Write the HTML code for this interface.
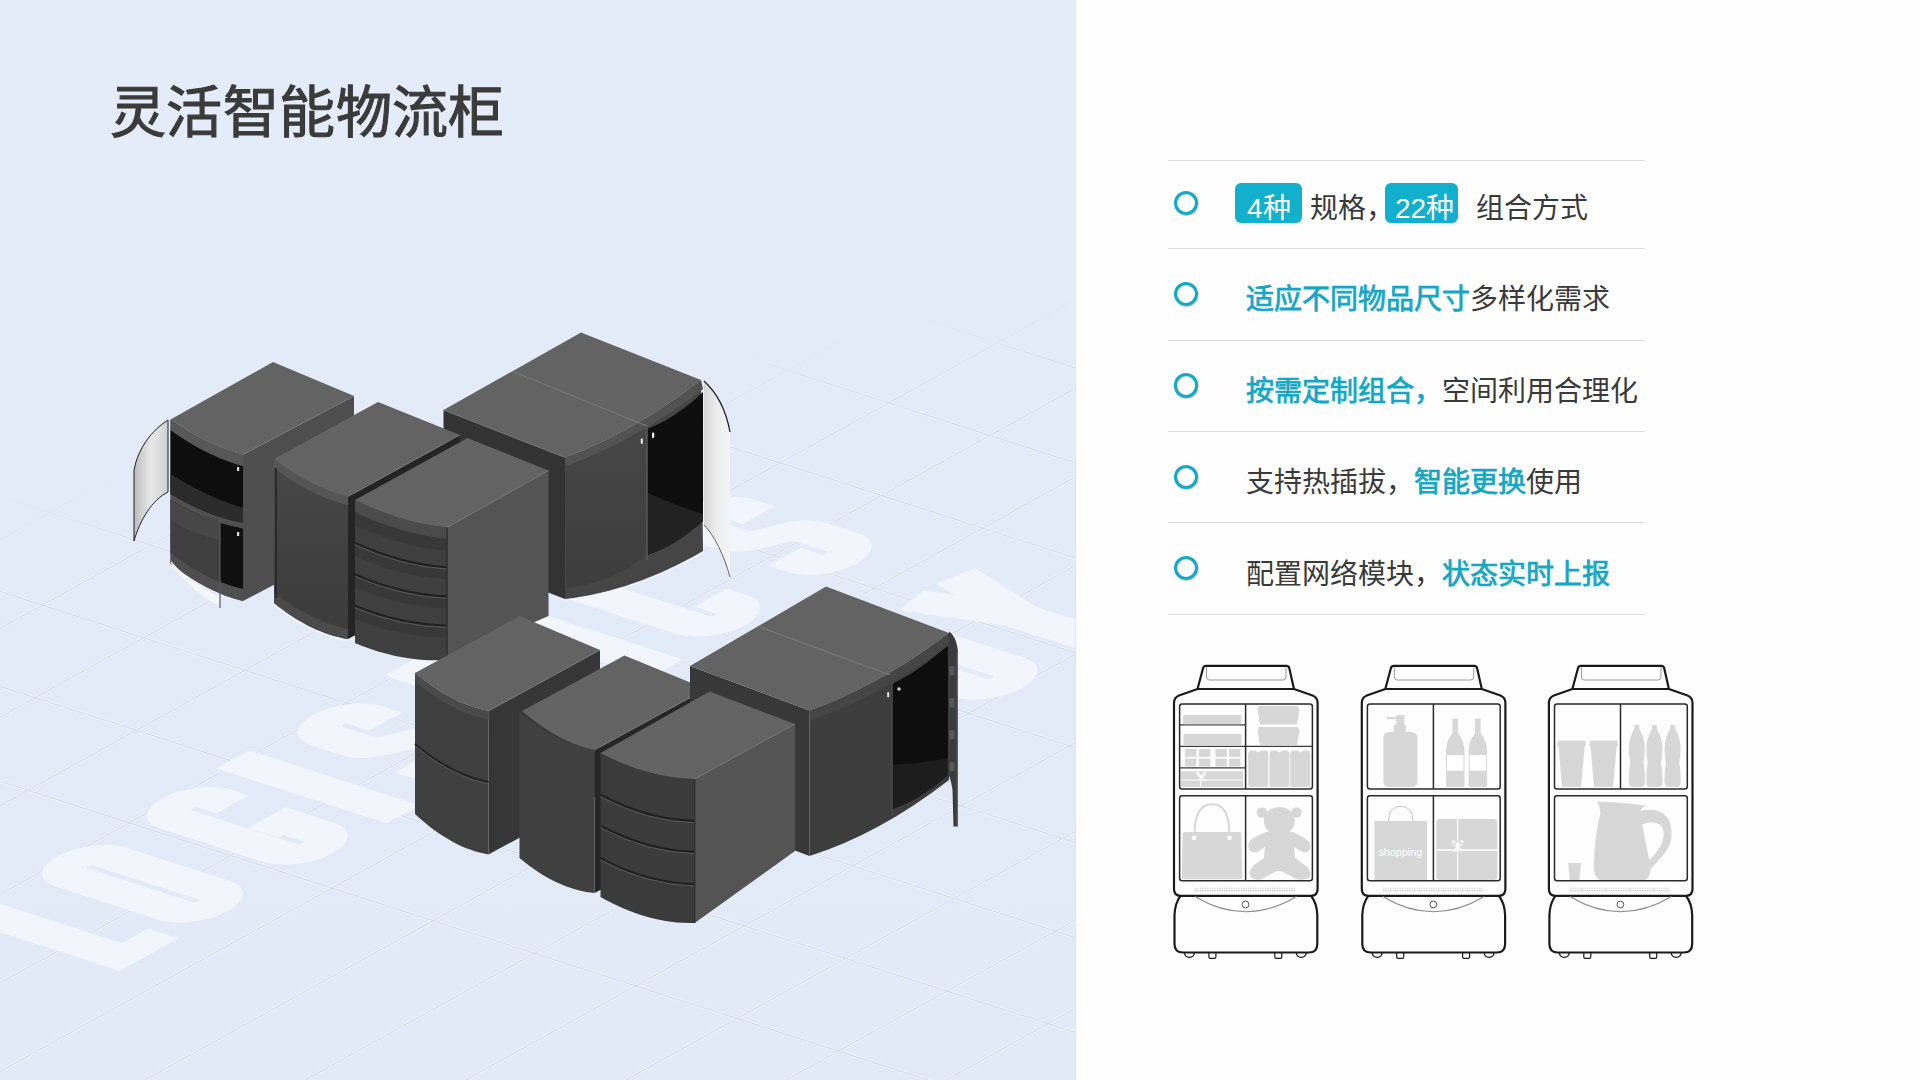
<!DOCTYPE html>
<html lang="zh-CN">
<head>
<meta charset="utf-8">
<style>
html,body{margin:0;padding:0;width:1920px;height:1080px;overflow:hidden;background:#fefefe;font-family:"Liberation Sans",sans-serif;}
#left{position:absolute;left:0;top:0;width:1076px;height:1080px;overflow:hidden;background:linear-gradient(180deg,#e5ecf9 0%,#e3ebf9 50%,#e2eaf8 100%);}
#left svg{position:absolute;left:0;top:0;}
#title{position:absolute;left:110px;top:75px;font-size:56px;line-height:76px;font-weight:400;color:#3b3b3b;letter-spacing:0.4px;white-space:nowrap;-webkit-text-stroke:1.1px #3b3b3b;}
.hl{position:absolute;left:1168px;width:477px;height:1.4px;background:#dcdcdc;}
.dot{position:absolute;left:1174px;width:18.4px;height:18.4px;border:3.8px solid #12a8c8;border-radius:50%;box-sizing:content-box;box-shadow:0.6px 0.8px 0.8px rgba(60,40,30,0.35),inset 0.5px 0.5px 0.6px rgba(60,40,30,0.2);}
.row{position:absolute;left:1246px;font-size:28px;line-height:40px;color:#3a3a3a;white-space:nowrap;}
.row b{font-weight:400;color:#13a6c5;-webkit-text-stroke:0.75px #13a6c5;}
.badge{position:absolute;top:183px;height:40px;background:#12b0cc;border-radius:6px;}
#drw{position:absolute;left:1160px;top:650px;}
</style>
</head>
<body>
<div id="left">
<svg id="bg" width="1076" height="1080" viewBox="0 0 1076 1080" style="position:absolute;left:0;top:0"><defs><linearGradient id="gfade" gradientUnits="userSpaceOnUse" x1="538" y1="385" x2="558" y2="490"><stop offset="0" stop-color="#fff" stop-opacity="0"/><stop offset="1" stop-color="#fff" stop-opacity="1"/></linearGradient><mask id="gmask"><rect width="1076" height="1080" fill="url(#gfade)"/></mask></defs><g mask="url(#gmask)"><path d="M-4435.5,2106.5L2074.5,-1493.5M-4334.2,2139.1L2175.8,-1460.9M-4232.9,2171.7L2277.1,-1428.3M-4131.6,2204.3L2378.4,-1395.7M-4030.3,2236.9L2479.7,-1363.1M-3929.0,2269.5L2581.0,-1330.5M-3827.7,2302.1L2682.3,-1297.9M-3726.4,2334.7L2783.6,-1265.3M-3625.1,2367.3L2884.9,-1232.7M-3523.8,2399.9L2986.2,-1200.1M-3422.5,2432.5L3087.5,-1167.5M-3321.2,2465.1L3188.8,-1134.9M-3219.9,2497.7L3290.1,-1102.3M-3118.6,2530.3L3391.4,-1069.7M-3017.3,2562.9L3492.7,-1037.1M-2916.0,2595.5L3594.0,-1004.5M-2814.7,2628.1L3695.3,-971.9M-2713.4,2660.7L3796.6,-939.3M-2612.1,2693.3L3897.9,-906.7M-2302.0,40.5L3776.0,1996.5M-2510.8,2725.9L3999.2,-874.1M-2193.5,-19.5L3884.5,1936.5M-2409.5,2758.5L4100.5,-841.5M-2085.0,-79.5L3993.0,1876.5M-2308.2,2791.1L4201.8,-808.9M-1976.5,-139.5L4101.5,1816.5M-2206.9,2823.7L4303.1,-776.3M-1868.0,-199.5L4210.0,1756.5M-2105.6,2856.3L4404.4,-743.7M-1759.5,-259.5L4318.5,1696.5M-2004.3,2888.9L4505.7,-711.1M-1651.0,-319.5L4427.0,1636.5M-1903.0,2921.5L4607.0,-678.5M-1542.5,-379.5L4535.5,1576.5M-1801.7,2954.1L4708.3,-645.9M-1434.0,-439.5L4644.0,1516.5M-1700.4,2986.7L4809.6,-613.3M-1325.5,-499.5L4752.5,1456.5M-1599.1,3019.3L4910.9,-580.7M-1217.0,-559.5L4861.0,1396.5M-1497.8,3051.9L5012.2,-548.1M-1108.5,-619.5L4969.5,1336.5M-1396.5,3084.5L5113.5,-515.5M-1000.0,-679.5L5078.0,1276.5M-1295.2,3117.1L5214.8,-482.9M-891.5,-739.5L5186.5,1216.5M-1193.9,3149.7L5316.1,-450.3M-783.0,-799.5L5295.0,1156.5M-1092.6,3182.3L5417.4,-417.7M-674.5,-859.5L5403.5,1096.5M-991.3,3214.9L5518.7,-385.1M-566.0,-919.5L5512.0,1036.5M-890.0,3247.5L5620.0,-352.5M-457.5,-979.5L5620.5,976.5M-788.7,3280.1L5721.3,-319.9M-349.0,-1039.5L5729.0,916.5M-687.4,3312.7L5822.6,-287.3M-240.5,-1099.5L5837.5,856.5M-586.1,3345.3L5923.9,-254.7M-132.0,-1159.5L5946.0,796.5M-484.8,3377.9L6025.2,-222.1M-23.5,-1219.5L6054.5,736.5M-383.5,3410.5L6126.5,-189.5" stroke="#f4f7fc" stroke-width="3" fill="none" opacity="0.5"/><path d="M-4435.5,2106.5L2074.5,-1493.5M-4334.2,2139.1L2175.8,-1460.9M-4232.9,2171.7L2277.1,-1428.3M-4131.6,2204.3L2378.4,-1395.7M-4030.3,2236.9L2479.7,-1363.1M-3929.0,2269.5L2581.0,-1330.5M-3827.7,2302.1L2682.3,-1297.9M-3726.4,2334.7L2783.6,-1265.3M-3625.1,2367.3L2884.9,-1232.7M-3523.8,2399.9L2986.2,-1200.1M-3422.5,2432.5L3087.5,-1167.5M-3321.2,2465.1L3188.8,-1134.9M-3219.9,2497.7L3290.1,-1102.3M-3118.6,2530.3L3391.4,-1069.7M-3017.3,2562.9L3492.7,-1037.1M-2916.0,2595.5L3594.0,-1004.5M-2814.7,2628.1L3695.3,-971.9M-2713.4,2660.7L3796.6,-939.3M-2612.1,2693.3L3897.9,-906.7M-2302.0,40.5L3776.0,1996.5M-2510.8,2725.9L3999.2,-874.1M-2193.5,-19.5L3884.5,1936.5M-2409.5,2758.5L4100.5,-841.5M-2085.0,-79.5L3993.0,1876.5M-2308.2,2791.1L4201.8,-808.9M-1976.5,-139.5L4101.5,1816.5M-2206.9,2823.7L4303.1,-776.3M-1868.0,-199.5L4210.0,1756.5M-2105.6,2856.3L4404.4,-743.7M-1759.5,-259.5L4318.5,1696.5M-2004.3,2888.9L4505.7,-711.1M-1651.0,-319.5L4427.0,1636.5M-1903.0,2921.5L4607.0,-678.5M-1542.5,-379.5L4535.5,1576.5M-1801.7,2954.1L4708.3,-645.9M-1434.0,-439.5L4644.0,1516.5M-1700.4,2986.7L4809.6,-613.3M-1325.5,-499.5L4752.5,1456.5M-1599.1,3019.3L4910.9,-580.7M-1217.0,-559.5L4861.0,1396.5M-1497.8,3051.9L5012.2,-548.1M-1108.5,-619.5L4969.5,1336.5M-1396.5,3084.5L5113.5,-515.5M-1000.0,-679.5L5078.0,1276.5M-1295.2,3117.1L5214.8,-482.9M-891.5,-739.5L5186.5,1216.5M-1193.9,3149.7L5316.1,-450.3M-783.0,-799.5L5295.0,1156.5M-1092.6,3182.3L5417.4,-417.7M-674.5,-859.5L5403.5,1096.5M-991.3,3214.9L5518.7,-385.1M-566.0,-919.5L5512.0,1036.5M-890.0,3247.5L5620.0,-352.5M-457.5,-979.5L5620.5,976.5M-788.7,3280.1L5721.3,-319.9M-349.0,-1039.5L5729.0,916.5M-687.4,3312.7L5822.6,-287.3M-240.5,-1099.5L5837.5,856.5M-586.1,3345.3L5923.9,-254.7M-132.0,-1159.5L5946.0,796.5M-484.8,3377.9L6025.2,-222.1M-23.5,-1219.5L6054.5,736.5M-383.5,3410.5L6126.5,-189.5" stroke="#d3dae8" stroke-width="1" fill="none"/></g><g transform="matrix(108.5,-60,101.3,32.6,845.5,958.5)"><path d="M-2.440,-6.070L-2.440,-4.540L-2.050,-4.540M-1.420,-5.745A0.175,0.175 0 0 0 -1.770,-5.745L-1.770,-4.715A0.175,0.175 0 0 0 -1.420,-4.715ZM-0.455,-5.565L-0.455,-5.745A0.175,0.175 0 0 0 -0.805,-5.745L-0.805,-4.715A0.175,0.175 0 0 0 -0.455,-4.715L-0.455,-5.050L-0.650,-5.050M0.020,-6.070L0.020,-4.390M0.935,-5.545L0.935,-5.745A0.175,0.175 0 0 0 0.585,-5.745L0.585,-5.430C0.585,-5.210 0.935,-5.250 0.935,-5.030L0.935,-4.715A0.175,0.175 0 0 1 0.585,-4.715L0.585,-4.915M1.415,-5.920L2.065,-5.920M1.740,-5.920L1.740,-4.390M2.450,-6.070L2.450,-4.390M3.345,-5.545L3.345,-5.745A0.175,0.175 0 0 0 2.995,-5.745L2.995,-4.715A0.175,0.175 0 0 0 3.345,-4.715L3.345,-4.915M4.375,-5.545L4.375,-5.745A0.175,0.175 0 0 0 4.025,-5.745L4.025,-5.430C4.025,-5.210 4.375,-5.250 4.375,-5.030L4.375,-4.715A0.175,0.175 0 0 1 4.025,-4.715L4.025,-4.915M3.625,-3.305A0.175,0.175 0 0 0 3.275,-3.305L3.275,-2.275A0.175,0.175 0 0 0 3.625,-2.275ZM3.995,-3.630L4.200,-2.780L4.405,-3.630M4.200,-2.780L4.200,-1.950" fill="none" stroke="#f2f5fc" stroke-width="0.3" stroke-linejoin="miter" stroke-miterlimit="8"/></g></svg>
<svg id="cab" width="1076" height="1080" viewBox="0 0 1076 1080"><defs>
<linearGradient id="doorA" x1="0" y1="0" x2="1" y2="0"><stop offset="0" stop-color="#bdbdbd"/><stop offset="0.5" stop-color="#e8e8e8"/><stop offset="1" stop-color="#cfcfcf"/></linearGradient>
<linearGradient id="doorD" x1="0" y1="0" x2="1" y2="0"><stop offset="0" stop-color="#d6d6d6"/><stop offset="0.5" stop-color="#ededed"/><stop offset="1" stop-color="#f3f4f6"/></linearGradient>
<linearGradient id="gB" x1="0" y1="0" x2="0" y2="1"><stop offset="0" stop-color="#474747"/><stop offset="1" stop-color="#3b3b3b"/></linearGradient>
<linearGradient id="gD" x1="0" y1="0" x2="0" y2="1"><stop offset="0" stop-color="#474747"/><stop offset="1" stop-color="#3d3d3d"/></linearGradient>
</defs><polygon points="243.0,454.5 354.0,396.0 354.0,543.0 243.0,601.0" fill="#4e4e4e" /><polygon points="170.5,419.5 175.0,422.6 179.6,425.6 184.1,428.5 188.6,431.2 193.2,433.9 197.7,436.4 202.2,438.8 206.8,441.0 211.3,443.1 215.8,445.1 220.3,447.0 224.9,448.8 229.4,450.4 233.9,451.9 238.5,453.2 243.0,454.5 243.0,601.0 238.5,599.8 233.9,598.5 229.4,597.0 224.9,595.4 220.3,593.6 215.8,591.6 211.3,589.5 206.8,587.2 202.2,584.8 197.7,582.2 193.2,579.5 188.6,576.6 184.1,573.6 179.6,570.4 175.0,567.0 170.5,563.5" fill="#4a4a4a" /><polygon points="170.5,430.0 175.0,433.2 179.6,436.2 184.1,439.2 188.6,442.0 193.2,444.7 197.7,447.2 202.2,449.7 206.8,452.0 211.3,454.2 215.8,456.2 220.3,458.2 224.9,460.0 229.4,461.7 233.9,463.2 238.5,464.7 243.0,466.0 243.0,523.0 238.5,522.1 233.9,521.1 229.4,520.0 224.9,518.8 220.3,517.4 215.8,515.9 211.3,514.2 206.8,512.5 202.2,510.6 197.7,508.6 193.2,506.5 188.6,504.2 184.1,501.9 179.6,499.4 175.0,496.8 170.5,494.0" fill="#0e0e0e" /><polygon points="170.5,474.0 175.0,476.8 179.6,479.6 184.1,482.2 188.6,484.8 193.2,487.2 197.7,489.6 202.2,491.8 206.8,494.0 211.3,496.1 215.8,498.1 220.3,500.0 224.9,501.8 229.4,503.5 233.9,505.1 238.5,506.6 243.0,508.0 243.0,523.0 238.5,522.1 233.9,521.1 229.4,520.0 224.9,518.8 220.3,517.4 215.8,515.9 211.3,514.2 206.8,512.5 202.2,510.6 197.7,508.6 193.2,506.5 188.6,504.2 184.1,501.9 179.6,499.4 175.0,496.8 170.5,494.0" fill="#2b2b2b" /><polygon points="170.5,494.0 175.0,496.8 179.6,499.4 184.1,501.9 188.6,504.2 193.2,506.5 197.7,508.6 202.2,510.6 206.8,512.5 211.3,514.2 215.8,515.9 220.3,517.4 224.9,518.8 229.4,520.0 233.9,521.1 238.5,522.1 243.0,523.0 243.0,528.5 238.5,527.6 233.9,526.6 229.4,525.5 224.9,524.2 220.3,522.9 215.8,521.4 211.3,519.8 206.8,518.0 202.2,516.1 197.7,514.1 193.2,512.0 188.6,509.8 184.1,507.4 179.6,504.9 175.0,502.2 170.5,499.5" fill="#505050" /><polygon points="170.5,499.5 175.0,502.2 179.6,504.9 184.1,507.4 188.6,509.8 193.2,512.0 197.7,514.1 202.2,516.1 206.8,518.0 211.3,519.8 215.8,521.4 220.3,522.9 224.9,524.2 229.4,525.5 233.9,526.6 238.5,527.6 243.0,528.5 243.0,589.0 238.5,587.9 233.9,586.7 229.4,585.3 224.9,583.8 220.3,582.0 215.8,580.2 211.3,578.2 206.8,576.0 202.2,573.7 197.7,571.2 193.2,568.5 188.6,565.8 184.1,562.8 179.6,559.7 175.0,556.4 170.5,553.0" fill="#101010" /><polygon points="171.0,500.0 174.1,502.0 177.1,503.8 180.2,505.6 183.2,507.2 186.3,508.8 189.4,510.3 192.4,511.7 195.5,513.0 198.6,514.2 201.6,515.3 204.7,516.3 207.8,517.2 210.8,518.1 213.9,518.8 216.9,519.5 220.0,520.0 220.0,583.0 216.9,582.0 213.9,580.9 210.8,579.8 207.8,578.5 204.7,577.1 201.6,575.7 198.6,574.1 195.5,572.5 192.4,570.8 189.4,568.9 186.3,567.0 183.2,565.0 180.2,562.9 177.1,560.7 174.1,558.4 171.0,556.0" fill="#3f3f3f" /><polygon points="171.0,500.0 174.1,502.0 177.1,503.8 180.2,505.6 183.2,507.2 186.3,508.8 189.4,510.3 192.4,511.7 195.5,513.0 198.6,514.2 201.6,515.3 204.7,516.3 207.8,517.2 210.8,518.1 213.9,518.8 216.9,519.5 220.0,520.0 220.0,540.0 216.9,539.5 213.9,538.8 210.8,538.1 207.8,537.2 204.7,536.3 201.6,535.3 198.6,534.2 195.5,533.0 192.4,531.7 189.4,530.3 186.3,528.8 183.2,527.2 180.2,525.6 177.1,523.8 174.1,522.0 171.0,520.0" fill="#474747" /><polygon points="170.5,553.0 175.0,556.4 179.6,559.7 184.1,562.8 188.6,565.8 193.2,568.5 197.7,571.2 202.2,573.7 206.8,576.0 211.3,578.2 215.8,580.2 220.3,582.0 224.9,583.8 229.4,585.3 233.9,586.7 238.5,587.9 243.0,589.0 243.0,601.0 238.5,599.8 233.9,598.5 229.4,597.0 224.9,595.4 220.3,593.6 215.8,591.6 211.3,589.5 206.8,587.2 202.2,584.8 197.7,582.2 193.2,579.5 188.6,576.6 184.1,573.6 179.6,570.4 175.0,567.0 170.5,563.5" fill="#4f4f4f" /><polygon points="170.5,419.5 175.0,422.6 179.6,425.6 184.1,428.5 188.6,431.2 193.2,433.9 197.7,436.4 202.2,438.8 206.8,441.0 211.3,443.1 215.8,445.1 220.3,447.0 224.9,448.8 229.4,450.4 233.9,451.9 238.5,453.2 243.0,454.5 243.0,466.0 238.5,464.7 233.9,463.2 229.4,461.7 224.9,460.0 220.3,458.2 215.8,456.2 211.3,454.2 206.8,452.0 202.2,449.7 197.7,447.2 193.2,444.7 188.6,442.0 184.1,439.2 179.6,436.2 175.0,433.2 170.5,430.0" fill="#575757" /><polygon points="273.0,362.0 354.0,396.0 243.0,454.5 243.0,454.5 238.5,453.2 233.9,451.9 229.4,450.4 224.9,448.8 220.3,447.0 215.8,445.1 211.3,443.1 206.8,441.0 202.2,438.8 197.7,436.4 193.2,433.9 188.6,431.2 184.1,428.5 179.6,425.6 175.0,422.6 170.5,419.5 170.5,419.5" fill="#636363" /><line x1="243.0" y1="454.5" x2="354.0" y2="396.0" stroke="#777" stroke-width="0.8" /><path d="M168,420 C152,430 138,448 134,470 L134,541 C140,520 152,500 168,492 Z" fill="url(#doorA)" stroke="#222" stroke-width="1"/><path d="M171,563 C185,585 205,598 220,607 L220,597 C205,590 185,578 171,561 Z" fill="#f4f6fa" /><line x1="220.0" y1="520.0" x2="220.0" y2="608.0" stroke="#5a5a5a" stroke-width="1.2" /><rect x="237" y="467" width="2.2" height="4" fill="#ddd"/><rect x="237" y="532" width="2.2" height="4" fill="#ddd"/><polygon points="443.5,410.0 565.0,457.5 565.0,599.0 443.5,552.0" fill="#333" /><polygon points="565.0,457.5 573.5,454.3 582.0,450.9 590.5,447.2 599.0,443.4 607.5,439.3 616.0,435.0 624.5,430.5 633.0,425.8 641.5,420.8 650.0,415.6 658.5,410.2 667.0,404.6 675.5,398.8 684.0,392.8 692.5,386.5 701.0,380.0 703.0,551.0 694.4,555.9 685.8,560.5 677.1,564.9 668.5,569.0 659.9,572.9 651.2,576.5 642.6,579.9 634.0,583.0 625.4,585.9 616.8,588.5 608.1,590.9 599.5,593.0 590.9,594.9 582.2,596.5 573.6,597.9 565.0,599.0" fill="#454545" /><polygon points="566.0,466.0 571.1,464.8 576.1,463.4 581.2,461.9 586.2,460.2 591.3,458.4 596.4,456.4 601.4,454.3 606.5,452.0 611.6,449.5 616.6,446.9 621.7,444.2 626.8,441.2 631.8,438.2 636.9,434.9 641.9,431.5 647.0,428.0 647.0,556.0 641.9,559.4 636.9,562.6 631.8,565.7 626.8,568.5 621.7,571.2 616.6,573.6 611.6,575.9 606.5,578.0 601.4,579.9 596.4,581.6 591.3,583.2 586.2,584.5 581.2,585.7 576.1,586.6 571.1,587.4 566.0,588.0" fill="url(#gD)" /><polygon points="647.0,429.0 650.5,427.6 654.0,426.1 657.5,424.5 661.0,422.8 664.5,420.9 668.0,418.9 671.5,416.8 675.0,414.5 678.5,412.1 682.0,409.6 685.5,407.0 689.0,404.2 692.5,401.4 696.0,398.4 699.5,395.2 703.0,392.0 703.0,521.0 699.5,524.1 696.0,527.0 692.5,529.8 689.0,532.5 685.5,535.1 682.0,537.5 678.5,539.8 675.0,542.0 671.5,544.1 668.0,546.0 664.5,547.8 661.0,549.5 657.5,551.1 654.0,552.5 650.5,553.8 647.0,555.0" fill="#0e0e0e" /><polygon points="648.0,493.0 651.4,494.5 654.9,496.1 658.3,497.5 661.8,499.0 665.2,500.4 668.6,501.8 672.1,503.2 675.5,504.5 678.9,505.8 682.4,507.1 685.8,508.3 689.2,509.5 692.7,510.7 696.1,511.8 699.6,512.9 703.0,514.0 703.0,521.0 699.5,524.1 696.0,527.0 692.5,529.8 689.0,532.5 685.5,535.1 682.0,537.5 678.5,539.8 675.0,542.0 671.5,544.1 668.0,546.0 664.5,547.8 661.0,549.5 657.5,551.1 654.0,552.5 650.5,553.8 647.0,555.0" fill="#222222" /><polygon points="565.0,457.5 573.5,454.3 582.0,450.9 590.5,447.2 599.0,443.4 607.5,439.3 616.0,435.0 624.5,430.5 633.0,425.8 641.5,420.8 650.0,415.6 658.5,410.2 667.0,404.6 675.5,398.8 684.0,392.8 692.5,386.5 701.0,380.0 703.0,389.0 694.4,395.5 685.9,401.7 677.3,407.7 668.8,413.5 660.2,419.1 651.6,424.4 643.1,429.6 634.5,434.5 625.9,439.2 617.4,443.7 608.8,448.0 600.2,452.0 591.7,455.8 583.1,459.4 574.6,462.8 566.0,466.0" fill="#525252" /><line x1="647.0" y1="428.0" x2="647.0" y2="560.0" stroke="#5a5a5a" stroke-width="1.5" /><path d="M565.0,600.5 Q634.0,592.5 703.0,552.5" fill="none" stroke="#f2f4f8" stroke-width="1.2" opacity="0.85"/><polygon points="443.5,410.0 581.0,332.5 701.0,380.0 692.5,386.5 684.0,392.8 675.5,398.8 667.0,404.6 658.5,410.2 650.0,415.6 641.5,420.8 633.0,425.8 624.5,430.5 616.0,435.0 607.5,439.3 599.0,443.4 590.5,447.2 582.0,450.9 573.5,454.3 565.0,457.5 565.0,457.5" fill="#636363" /><line x1="513.0" y1="371.5" x2="647.0" y2="426.0" stroke="#777" stroke-width="1.2" /><line x1="443.5" y1="410.0" x2="565.0" y2="457.5" stroke="#707070" stroke-width="0.8" /><rect x="640.8" y="438.5" width="2" height="5.5" rx="1" fill="#eee"/><rect x="652" y="432.5" width="2.2" height="5.5" rx="1" fill="#eee"/><path d="M704,381 C716,392 726,410 730,432 L730,577 C724,555 714,535 704,525 Z" fill="url(#doorD)" /><path d="M704,381 C716,392 726,410 730,432" fill="none" stroke="#222" stroke-width="1.3"/><path d="M704,525 C714,535 724,555 730,577" fill="none" stroke="#666" stroke-width="1"/><polygon points="348.0,496.5 460.0,435.0 460.0,580.0 348.0,639.0" fill="#242424" /><polygon points="274.0,459.0 278.6,462.5 283.2,465.9 287.9,469.1 292.5,472.1 297.1,475.0 301.8,477.8 306.4,480.3 311.0,482.8 315.6,485.0 320.2,487.1 324.9,489.1 329.5,490.9 334.1,492.5 338.8,494.0 343.4,495.3 348.0,496.5 348.0,639.0 343.4,638.2 338.8,637.1 334.1,635.9 329.5,634.5 324.9,632.9 320.2,631.1 315.6,629.2 311.0,627.0 306.4,624.7 301.8,622.1 297.1,619.4 292.5,616.5 287.9,613.4 283.2,610.1 278.6,606.7 274.0,603.0" fill="url(#gB)" /><polygon points="274.0,459.0 278.6,462.5 283.2,465.9 287.9,469.1 292.5,472.1 297.1,475.0 301.8,477.8 306.4,480.3 311.0,482.8 315.6,485.0 320.2,487.1 324.9,489.1 329.5,490.9 334.1,492.5 338.8,494.0 343.4,495.3 348.0,496.5 348.0,505.1 343.4,503.9 338.8,502.6 334.1,501.1 329.5,499.4 324.9,497.7 320.2,495.7 315.6,493.6 311.0,491.3 306.4,488.9 301.8,486.4 297.1,483.6 292.5,480.7 287.9,477.7 283.2,474.5 278.6,471.2 274.0,467.6" fill="#555" /><polygon points="274.0,592.9 278.6,596.3 283.2,599.6 287.9,602.7 292.5,605.7 297.1,608.5 301.8,611.1 306.4,613.6 311.0,616.0 315.6,618.2 320.2,620.2 324.9,622.0 329.5,623.7 334.1,625.3 338.8,626.7 343.4,627.9 348.0,629.0 348.0,639.0 343.4,638.2 338.8,637.1 334.1,635.9 329.5,634.5 324.9,632.9 320.2,631.1 315.6,629.2 311.0,627.0 306.4,624.7 301.8,622.1 297.1,619.4 292.5,616.5 287.9,613.4 283.2,610.1 278.6,606.7 274.0,603.0" fill="#4a4a4a" /><line x1="276.0" y1="468.0" x2="276.0" y2="598.0" stroke="#2a2a2a" stroke-width="2" /><path d="M273.5,604.0 Q310.8,634.5 348.0,641.0" fill="none" stroke="#f2f4f8" stroke-width="1.2" opacity="0.9"/><polygon points="378.0,402.0 460.0,435.0 348.0,496.5 348.0,496.5 343.4,495.3 338.8,494.0 334.1,492.5 329.5,490.9 324.9,489.1 320.2,487.1 315.6,485.0 311.0,482.8 306.4,480.3 301.8,477.8 297.1,475.0 292.5,472.1 287.9,469.1 283.2,465.9 278.6,462.5 274.0,459.0 274.0,459.0" fill="#636363" /><line x1="348.0" y1="496.5" x2="460.0" y2="435.0" stroke="#777" stroke-width="0.8" /><polygon points="447.0,527.5 548.5,470.5 548.5,616.0 447.0,660.0" fill="#545454" /><polygon points="355.0,500.0 360.8,502.8 366.5,505.4 372.2,507.9 378.0,510.2 383.8,512.5 389.5,514.5 395.2,516.5 401.0,518.2 406.8,519.9 412.5,521.4 418.2,522.8 424.0,524.0 429.8,525.1 435.5,526.0 441.2,526.8 447.0,527.5 447.0,660.0 441.2,660.2 435.5,660.3 429.8,660.2 424.0,659.9 418.2,659.4 412.5,658.8 406.8,658.0 401.0,657.0 395.2,655.9 389.5,654.5 383.8,653.0 378.0,651.4 372.2,649.5 366.5,647.5 360.8,645.4 355.0,643.0" fill="#3f3f3f" /><polygon points="355.0,500.0 360.8,502.8 366.5,505.4 372.2,507.9 378.0,510.2 383.8,512.5 389.5,514.5 395.2,516.5 401.0,518.2 406.8,519.9 412.5,521.4 418.2,522.8 424.0,524.0 429.8,525.1 435.5,526.0 441.2,526.8 447.0,527.5 447.0,538.8 441.2,538.2 435.5,537.4 429.8,536.5 424.0,535.5 418.2,534.3 412.5,533.0 406.8,531.6 401.0,530.0 395.2,528.2 389.5,526.4 383.8,524.3 378.0,522.2 372.2,519.9 366.5,517.4 360.8,514.9 355.0,512.2" fill="#4b4b4b" /><polygon points="355.0,512.2 360.8,514.9 366.5,517.4 372.2,519.9 378.0,522.2 383.8,524.3 389.5,526.4 395.2,528.2 401.0,530.0 406.8,531.6 412.5,533.0 418.2,534.3 424.0,535.5 429.8,536.5 435.5,537.4 441.2,538.2 447.0,538.8 447.0,550.7 441.2,550.1 435.5,549.4 429.8,548.6 424.0,547.6 418.2,546.5 412.5,545.3 406.8,543.9 401.0,542.4 395.2,540.7 389.5,538.9 383.8,536.9 378.0,534.8 372.2,532.6 366.5,530.2 360.8,527.7 355.0,525.0" fill="#383838" /><polygon points="355.0,542.9 360.8,545.5 366.5,547.9 372.2,550.2 378.0,552.4 383.8,554.4 389.5,556.2 395.2,558.0 401.0,559.6 406.8,561.0 412.5,562.3 418.2,563.5 424.0,564.5 429.8,565.4 435.5,566.2 441.2,566.8 447.0,567.2 447.0,579.2 441.2,578.8 435.5,578.2 429.8,577.5 424.0,576.7 418.2,575.7 412.5,574.6 406.8,573.4 401.0,572.0 395.2,570.4 389.5,568.8 383.8,567.0 378.0,565.0 372.2,562.9 366.5,560.7 360.8,558.3 355.0,555.8" fill="#383838" /><polygon points="355.0,574.4 360.8,576.8 366.5,579.1 372.2,581.2 378.0,583.2 383.8,585.1 389.5,586.8 395.2,588.4 401.0,589.9 406.8,591.2 412.5,592.4 418.2,593.4 424.0,594.3 429.8,595.0 435.5,595.6 441.2,596.1 447.0,596.4 447.0,608.3 441.2,608.1 435.5,607.7 429.8,607.1 424.0,606.4 418.2,605.6 412.5,604.6 406.8,603.5 401.0,602.3 395.2,600.9 389.5,599.4 383.8,597.7 378.0,595.9 372.2,593.9 366.5,591.8 360.8,589.6 355.0,587.2" fill="#383838" /><polygon points="355.0,605.8 360.8,608.1 366.5,610.3 372.2,612.3 378.0,614.1 383.8,615.9 389.5,617.4 395.2,618.9 401.0,620.2 406.8,621.3 412.5,622.4 418.2,623.3 424.0,624.0 429.8,624.6 435.5,625.1 441.2,625.4 447.0,625.5 447.0,637.5 441.2,637.4 435.5,637.1 429.8,636.7 424.0,636.2 418.2,635.5 412.5,634.6 406.8,633.7 401.0,632.6 395.2,631.3 389.5,630.0 383.8,628.4 378.0,626.8 372.2,625.0 366.5,623.0 360.8,620.9 355.0,618.7" fill="#383838" /><path d="M355.0,542.9 Q401.0,564.1 447.0,567.2" fill="none" stroke="#202020" stroke-width="2.2" /><path d="M355.0,544.9 Q401.0,566.1 447.0,569.2" fill="none" stroke="#595959" stroke-width="1" /><path d="M355.0,574.4 Q401.0,594.4 447.0,596.4" fill="none" stroke="#202020" stroke-width="2.2" /><path d="M355.0,576.4 Q401.0,596.4 447.0,598.4" fill="none" stroke="#595959" stroke-width="1" /><path d="M355.0,605.8 Q401.0,624.7 447.0,625.5" fill="none" stroke="#202020" stroke-width="2.2" /><path d="M355.0,607.8 Q401.0,626.7 447.0,627.5" fill="none" stroke="#595959" stroke-width="1" /><polygon points="467.5,438.0 548.5,470.5 447.0,527.5 447.0,527.5 441.2,526.8 435.5,526.0 429.8,525.1 424.0,524.0 418.2,522.8 412.5,521.4 406.8,519.9 401.0,518.2 395.2,516.5 389.5,514.5 383.8,512.5 378.0,510.2 372.2,507.9 366.5,505.4 360.8,502.8 355.0,500.0 355.0,500.0" fill="#636363" /><line x1="447.0" y1="527.5" x2="548.5" y2="470.5" stroke="#7a7a7a" stroke-width="1" /><line x1="447.0" y1="527.5" x2="447.0" y2="660.0" stroke="#2f2f2f" stroke-width="1.5" /><polygon points="488.5,711.0 600.0,650.0 600.0,794.0 488.5,854.5" fill="#363636" /><polygon points="415.0,673.0 419.6,676.8 424.2,680.4 428.8,683.8 433.4,687.0 438.0,690.0 442.6,692.9 447.2,695.5 451.8,698.0 456.3,700.3 460.9,702.4 465.5,704.3 470.1,706.0 474.7,707.5 479.3,708.9 483.9,710.0 488.5,711.0 488.5,854.5 483.9,853.6 479.3,852.5 474.7,851.2 470.1,849.6 465.5,847.9 460.9,845.9 456.3,843.7 451.8,841.2 447.2,838.6 442.6,835.8 438.0,832.7 433.4,829.4 428.8,825.9 424.2,822.1 419.6,818.2 415.0,814.0" fill="#3f3f3f" /><polygon points="415.0,673.0 419.6,676.8 424.2,680.4 428.8,683.8 433.4,687.0 438.0,690.0 442.6,692.9 447.2,695.5 451.8,698.0 456.3,700.3 460.9,702.4 465.5,704.3 470.1,706.0 474.7,707.5 479.3,708.9 483.9,710.0 488.5,711.0 488.5,719.6 483.9,718.6 479.3,717.5 474.7,716.1 470.1,714.6 465.5,712.8 460.9,710.9 456.3,708.8 451.8,706.5 447.2,704.1 442.6,701.4 438.0,698.5 433.4,695.5 428.8,692.3 424.2,688.9 419.6,685.3 415.0,681.5" fill="#4a4a4a" /><path d="M415.0,744.0 Q451.8,775.0 488.5,782.0" fill="none" stroke="#222" stroke-width="2" /><path d="M415.0,746.0 Q451.8,777.0 488.5,784.0" fill="none" stroke="#555" stroke-width="1" /><polygon points="519.5,616.0 600.0,650.0 488.5,711.0 488.5,711.0 483.9,710.0 479.3,708.9 474.7,707.5 470.1,706.0 465.5,704.3 460.9,702.4 456.3,700.3 451.8,698.0 447.2,695.5 442.6,692.9 438.0,690.0 433.4,687.0 428.8,683.8 424.2,680.4 419.6,676.8 415.0,673.0 415.0,673.0" fill="#636363" /><line x1="488.5" y1="711.0" x2="600.0" y2="650.0" stroke="#777" stroke-width="0.8" /><polygon points="594.5,750.0 706.0,689.0 706.0,835.0 594.5,893.0" fill="#262626" /><polygon points="519.5,712.0 524.2,715.8 528.9,719.4 533.6,722.8 538.2,726.0 542.9,729.0 547.6,731.9 552.3,734.5 557.0,737.0 561.7,739.3 566.4,741.4 571.1,743.3 575.8,745.0 580.4,746.5 585.1,747.9 589.8,749.0 594.5,750.0 594.5,893.0 589.8,892.5 585.1,891.7 580.4,890.7 575.8,889.5 571.1,888.1 566.4,886.4 561.7,884.6 557.0,882.5 552.3,880.2 547.6,877.7 542.9,875.0 538.2,872.0 533.6,868.8 528.9,865.4 524.2,861.8 519.5,858.0" fill="#404040" /><polygon points="624.5,655.5 706.0,689.0 594.5,750.0 594.5,750.0 590.0,749.0 585.4,747.8 580.9,746.3 576.4,744.8 571.8,743.0 567.3,741.0 562.8,738.8 558.2,736.5 553.7,734.0 549.2,731.2 544.7,728.3 540.1,725.2 535.6,722.0 531.1,718.5 526.5,714.8 522.0,711.0 522.0,711.0" fill="#636363" /><line x1="594.5" y1="750.0" x2="706.0" y2="689.0" stroke="#777" stroke-width="0.8" /><polygon points="690.0,666.0 809.5,710.5 809.5,856.0 690.0,811.0" fill="#383838" /><polygon points="809.5,710.5 818.2,707.3 826.9,703.9 835.7,700.2 844.4,696.4 853.1,692.3 861.8,688.0 870.5,683.5 879.2,678.8 888.0,673.8 896.7,668.6 905.4,663.2 914.1,657.6 922.8,651.8 931.6,645.8 940.3,639.5 949.0,633.0 949.0,780.0 940.3,786.6 931.6,793.0 922.8,799.1 914.1,805.0 905.4,810.6 896.7,816.0 888.0,821.1 879.2,826.0 870.5,830.6 861.8,835.0 853.1,839.1 844.4,843.0 835.7,846.6 826.9,850.0 818.2,853.1 809.5,856.0" fill="#3d3d3d" /><polygon points="892.0,684.0 895.5,682.3 899.0,680.4 902.5,678.5 906.0,676.5 909.5,674.4 913.0,672.2 916.5,669.9 920.0,667.5 923.5,665.0 927.0,662.4 930.5,659.8 934.0,657.0 937.5,654.1 941.0,651.2 944.5,648.1 948.0,645.0 948.0,775.0 944.5,778.1 941.0,781.0 937.5,783.8 934.0,786.5 930.5,789.1 927.0,791.5 923.5,793.8 920.0,796.0 916.5,798.1 913.0,800.0 909.5,801.8 906.0,803.5 902.5,805.1 899.0,806.5 895.5,807.8 892.0,809.0" fill="#0e0e0e" /><polygon points="892.0,765.0 895.5,764.8 899.0,764.6 902.5,764.3 906.0,764.0 909.5,763.7 913.0,763.3 916.5,762.9 920.0,762.5 923.5,762.0 927.0,761.6 930.5,761.0 934.0,760.5 937.5,759.9 941.0,759.3 944.5,758.7 948.0,758.0 948.0,775.0 944.5,778.1 941.0,781.0 937.5,783.8 934.0,786.5 930.5,789.1 927.0,791.5 923.5,793.8 920.0,796.0 916.5,798.1 913.0,800.0 909.5,801.8 906.0,803.5 902.5,805.1 899.0,806.5 895.5,807.8 892.0,809.0" fill="#1d1d1d" /><polygon points="809.5,710.5 818.2,707.3 826.9,703.9 835.7,700.2 844.4,696.4 853.1,692.3 861.8,688.0 870.5,683.5 879.2,678.8 888.0,673.8 896.7,668.6 905.4,663.2 914.1,657.6 922.8,651.8 931.6,645.8 940.3,639.5 949.0,633.0 949.0,645.0 940.3,651.4 931.6,657.6 922.9,663.5 914.2,669.2 905.6,674.8 896.9,680.1 888.2,685.1 879.5,690.0 870.8,694.6 862.1,699.1 853.4,703.3 844.8,707.2 836.1,711.0 827.4,714.6 818.7,717.9 810.0,721.0" fill="#454545" /><line x1="892.0" y1="677.0" x2="892.0" y2="815.0" stroke="#4a4a4a" stroke-width="1.5" /><polygon points="690.0,666.0 826.0,586.5 949.0,633.0 940.3,639.5 931.6,645.8 922.8,651.8 914.1,657.6 905.4,663.2 896.7,668.6 888.0,673.8 879.2,678.8 870.5,683.5 861.8,688.0 853.1,692.3 844.4,696.4 835.7,700.2 826.9,703.9 818.2,707.3 809.5,710.5 809.5,710.5" fill="#636363" /><line x1="760.0" y1="627.0" x2="890.0" y2="675.0" stroke="#777" stroke-width="1.2" /><path d="M949,631.5 C954.5,635 957.5,643 958,653 L958,826.5 L953.5,826.5 L952.5,790 C951.5,783 950.5,779 949,776 Z" fill="#3b3b3b" /><line x1="957.2" y1="652.0" x2="957.2" y2="826.0" stroke="#6e6e6e" stroke-width="1" /><rect x="949.5" y="666" width="5" height="9.5" fill="#575757"/><rect x="949.5" y="698" width="5" height="9.5" fill="#575757"/><rect x="949.5" y="730" width="5" height="9.5" fill="#575757"/><rect x="949.5" y="762" width="5" height="9.5" fill="#575757"/><rect x="887.2" y="692" width="2" height="5.5" rx="1" fill="#e6e6e6"/><circle cx="899" cy="689" r="1.8" fill="#cfcfcf"/><polygon points="694.7,779.0 795.0,724.0 795.0,851.0 694.7,923.0" fill="#545454" /><polygon points="600.5,753.0 606.4,756.0 612.3,758.9 618.2,761.5 624.1,764.0 629.9,766.3 635.8,768.4 641.7,770.3 647.6,772.0 653.5,773.5 659.4,774.9 665.3,776.0 671.2,777.0 677.0,777.8 682.9,778.4 688.8,778.8 694.7,779.0 694.7,923.0 688.8,923.0 682.9,922.8 677.0,922.4 671.2,921.8 665.3,920.9 659.4,919.8 653.5,918.5 647.6,917.0 641.7,915.3 635.8,913.3 629.9,911.1 624.1,908.8 618.2,906.1 612.3,903.3 606.4,900.3 600.5,897.0" fill="#3b3b3b" /><path d="M600.5,794.8 Q647.6,819.8 694.7,820.8" fill="none" stroke="#202020" stroke-width="2.2" /><path d="M600.5,796.8 Q647.6,821.8 694.7,822.8" fill="none" stroke="#585858" stroke-width="1" /><path d="M600.5,825.7 Q647.6,850.7 694.7,851.7" fill="none" stroke="#202020" stroke-width="2.2" /><path d="M600.5,827.7 Q647.6,852.7 694.7,853.7" fill="none" stroke="#585858" stroke-width="1" /><path d="M600.5,858.1 Q647.6,883.1 694.7,884.1" fill="none" stroke="#202020" stroke-width="2.2" /><path d="M600.5,860.1 Q647.6,885.1 694.7,886.1" fill="none" stroke="#585858" stroke-width="1" /><polygon points="709.5,691.5 795.0,724.0 694.7,779.0 694.7,779.0 688.8,778.8 682.9,778.4 677.0,777.8 671.2,777.0 665.3,776.0 659.4,774.9 653.5,773.5 647.6,772.0 641.7,770.3 635.8,768.4 629.9,766.3 624.0,764.0 618.2,761.5 612.3,758.9 606.4,756.0 600.5,753.0 600.5,753.0" fill="#636363" /><line x1="694.7" y1="779.0" x2="795.0" y2="724.0" stroke="#7a7a7a" stroke-width="1" /><line x1="694.7" y1="779.0" x2="694.7" y2="923.0" stroke="#2f2f2f" stroke-width="1.5" /></svg>
<div style="position:absolute;left:1075px;top:0;width:1px;height:1080px;background:#dde5f0"></div>
<div id="title">灵活智能物流柜</div>
</div>

<div class="hl" style="top:160px"></div>
<div class="hl" style="top:248px"></div>
<div class="hl" style="top:340px"></div>
<div class="hl" style="top:431px"></div>
<div class="hl" style="top:522px"></div>
<div class="hl" style="top:614px"></div>

<div class="dot" style="top:190.5px"></div>
<div class="dot" style="top:282px"></div>
<div class="dot" style="top:373.3px"></div>
<div class="dot" style="top:464.7px"></div>
<div class="dot" style="top:556px"></div>

<div class="badge" style="left:1235px;width:67px"></div>
<div class="badge" style="left:1385px;width:73px"></div>
<div class="row" style="top:189px;left:1247px"><span style="color:#fff">4种</span></div>
<div class="row" style="top:189px;left:1310px">规格，</div>
<div class="row" style="top:189px;left:1395px"><span style="color:#fff">22种</span></div>
<div class="row" style="top:189px;left:1476px">组合方式</div>
<div class="row" style="top:280px"><b>适应不同物品尺寸</b>多样化需求</div>
<div class="row" style="top:372px"><b>按需定制组合，</b>空间利用合理化</div>
<div class="row" style="top:463px">支持热插拔，<b>智能更换</b>使用</div>
<div class="row" style="top:555px">配置网络模块，<b>状态实时上报</b></div>

<svg id="drw" width="560" height="320" viewBox="1160 650 560 320" style="position:absolute;left:1160px;top:650px"><defs><pattern id="grille" width="2.4" height="2.5" patternUnits="userSpaceOnUse"><rect width="1.2" height="1.2" fill="#bdbdbd"/></pattern></defs><g transform="translate(0,0)"><path d="M1197.5,689 L1203.2,667.8 Q1203.8,665.8 1206,665.8 L1286.5,665.8 Q1288.6,665.8 1289.2,667.8 L1294,689" stroke="#1a1a1a" stroke-width="2.2" fill="none" stroke-linejoin="round"/><path d="M1206.5,667.5 L1206.5,677 Q1206.5,680 1209.5,680 L1283,680 Q1286,680 1286,677 L1286,667.5" stroke="#9a9a9a" stroke-width="1" fill="none"/><path d="M1197.5,689 L1179,695.5 Q1174,697.5 1174,703 L1174,889 Q1174,895.8 1180.5,895.8 L1311,895.8 Q1317.6,895.8 1317.6,889 L1317.6,703 Q1317.6,697.5 1312.6,695.5 L1294,689 Z" stroke="#1a1a1a" stroke-width="2.2" fill="none" stroke-linejoin="round" fill="#fff"/><path d="M1180.5,895.8 Q1175,903 1174.5,915 L1174.5,944 Q1174.5,952.5 1183,952.5 L1309,952.5 Q1317.3,952.5 1317.3,944 L1317.3,915 Q1316.8,903 1311,895.8" stroke="#1a1a1a" stroke-width="2.2" fill="none" stroke-linejoin="round"/><path d="M1184.4,952.8 Q1184.9,957.3 1189.4,957.3 Q1193.9,957.3 1194.4,952.8" stroke="#1a1a1a" stroke-width="1.3" fill="none"/><path d="M1296.3,952.8 Q1296.8,957.3 1301.3,957.3 Q1305.8,957.3 1306.3,952.8" stroke="#1a1a1a" stroke-width="1.3" fill="none"/><path d="M1208.9,952.8 L1208.9,957 Q1208.9,958.3 1210.4,958.3 L1214.4,958.3 Q1215.9,958.3 1215.9,957 L1215.9,952.8" stroke="#1a1a1a" stroke-width="1.2" fill="none"/><path d="M1274.8,952.8 L1274.8,957 Q1274.8,958.3 1276.3,958.3 L1280.3,958.3 Q1281.8,958.3 1281.8,957 L1281.8,952.8" stroke="#1a1a1a" stroke-width="1.2" fill="none"/><path d="M1195,896.5 Q1245.5,927 1296.5,896.5" stroke="#8a8a8a" stroke-width="1.1" fill="none"/><circle cx="1245.5" cy="904.5" r="3.4" stroke="#555" stroke-width="1" fill="none"/><rect x="1195" y="887.5" width="101" height="5" fill="url(#grille)"/><line x1="1180" y1="724.8" x2="1245" y2="724.8" stroke="#3a3a3a" stroke-width="1.3"/><line x1="1180" y1="746.3" x2="1245" y2="746.3" stroke="#3a3a3a" stroke-width="1.3"/><line x1="1180" y1="767.8" x2="1245" y2="767.8" stroke="#3a3a3a" stroke-width="1.3"/><line x1="1246" y1="746.3" x2="1312" y2="746.3" stroke="#3a3a3a" stroke-width="1.3"/><rect x="1183" y="715" width="58.5" height="9.2" rx="1.5" fill="#d7d7d7"/><rect x="1183.5" y="734" width="58" height="11.5" rx="1.5" fill="#d7d7d7"/><rect x="1185" y="749" width="11.4" height="7.8" fill="#d7d7d7"/><rect x="1185" y="758.7" width="11.4" height="7.8" fill="#d7d7d7"/><rect x="1199" y="749" width="11.4" height="7.8" fill="#d7d7d7"/><rect x="1199" y="758.7" width="11.4" height="7.8" fill="#d7d7d7"/><rect x="1215.4" y="749" width="11.4" height="7.8" fill="#d7d7d7"/><rect x="1215.4" y="758.7" width="11.4" height="7.8" fill="#d7d7d7"/><rect x="1229" y="749" width="11.4" height="7.8" fill="#d7d7d7"/><rect x="1229" y="758.7" width="11.4" height="7.8" fill="#d7d7d7"/><rect x="1181" y="771.3" width="62" height="15.8" fill="#d7d7d7"/><line x1="1181" y1="780" x2="1243" y2="780" stroke="#fff" stroke-width="1.2"/><path d="M1200.5,787 L1201.3,776 M1201.3,776 q-6,-6 -4,-1.5 q2,3 4,1.5 q6,-6 4,-1.5 q-2,3 -4,1.5 M1201.3,776 l-3,5 M1201.3,776 l4,5" stroke="#fff" stroke-width="1.1" fill="none"/><path d="M1259,706 L1297.5,706 L1299.5,709 L1297,724.5 L1260,724.5 L1257.5,709 Z" fill="#d7d7d7"/><path d="M1259,727 L1297.5,727 L1299.5,730 L1297,745.5 L1260,745.5 L1257.5,730 Z" fill="#d7d7d7"/><path d="M1250.2,750.5 L1255.2,750.5 L1258.2,752.5 L1261.2,750.5 L1266.2,750.5 Q1268.2,751 1268.2,754 L1268.2,785 Q1268.2,787 1266.2,787 L1250.2,787 Q1248.2,787 1248.2,785 L1248.2,754 Q1248.2,751 1250.2,750.5 Z" fill="#d7d7d7"/><path d="M1271.5,750.5 L1276.5,750.5 L1279.5,752.5 L1282.5,750.5 L1287.5,750.5 Q1289.5,751 1289.5,754 L1289.5,785 Q1289.5,787 1287.5,787 L1271.5,787 Q1269.5,787 1269.5,785 L1269.5,754 Q1269.5,751 1271.5,750.5 Z" fill="#d7d7d7"/><path d="M1292.2,750.5 L1297.2,750.5 L1300.2,752.5 L1303.2,750.5 L1308.2,750.5 Q1310.2,751 1310.2,754 L1310.2,785 Q1310.2,787 1308.2,787 L1292.2,787 Q1290.2,787 1290.2,785 L1290.2,754 Q1290.2,751 1292.2,750.5 Z" fill="#d7d7d7"/><path d="M1194.6,833 Q1195,804.3 1212,804.3 Q1229,804.3 1229.4,833" stroke="#d7d7d7" stroke-width="2" fill="none"/><path d="M1184.5,832 L1239.5,832 Q1241,832 1241.2,834 L1242.2,877 Q1242.2,879.3 1240,879.3 L1184,879.3 Q1181.8,879.3 1181.8,877 L1182.6,834 Q1182.8,832 1184.5,832 Z" fill="#d7d7d7"/><circle cx="1194" cy="837.8" r="2.4" fill="#fff"/><circle cx="1229.4" cy="837.8" r="2.4" fill="#fff"/><g fill="#d7d7d7"><circle cx="1262" cy="812.5" r="5.2"/><circle cx="1296.5" cy="812.5" r="5.2"/><ellipse cx="1279.3" cy="821" rx="15.5" ry="14"/><path d="M1266,832 Q1279,829 1293,832 L1304,838 Q1313,843 1309.5,850 Q1306,855 1299,850 L1294,847 L1295,858 L1306,866 Q1314,873 1308,878.5 Q1303,880.5 1296,879 L1285,873 Q1279,869 1273,873 L1262,879 Q1255,881 1251,877 Q1247,872 1254,865 L1264,858 L1265,847 L1259,851 Q1252,855 1249,849 Q1246,842 1255,837 Z"/></g><rect x="1179.6" y="704" width="132.8" height="85" rx="2.5" stroke="#2a2a2a" stroke-width="1.5" fill="none"/><rect x="1179.6" y="795.8" width="132.8" height="85" rx="2.5" stroke="#2a2a2a" stroke-width="1.5" fill="none"/><line x1="1245.6" y1="704" x2="1245.6" y2="789" stroke="#2a2a2a" stroke-width="1.5" fill="none"/><line x1="1245.6" y1="795.8" x2="1245.6" y2="880.8" stroke="#2a2a2a" stroke-width="1.5" fill="none"/></g><g transform="translate(187.8,0)"><path d="M1197.5,689 L1203.2,667.8 Q1203.8,665.8 1206,665.8 L1286.5,665.8 Q1288.6,665.8 1289.2,667.8 L1294,689" stroke="#1a1a1a" stroke-width="2.2" fill="none" stroke-linejoin="round"/><path d="M1206.5,667.5 L1206.5,677 Q1206.5,680 1209.5,680 L1283,680 Q1286,680 1286,677 L1286,667.5" stroke="#9a9a9a" stroke-width="1" fill="none"/><path d="M1197.5,689 L1179,695.5 Q1174,697.5 1174,703 L1174,889 Q1174,895.8 1180.5,895.8 L1311,895.8 Q1317.6,895.8 1317.6,889 L1317.6,703 Q1317.6,697.5 1312.6,695.5 L1294,689 Z" stroke="#1a1a1a" stroke-width="2.2" fill="none" stroke-linejoin="round" fill="#fff"/><path d="M1180.5,895.8 Q1175,903 1174.5,915 L1174.5,944 Q1174.5,952.5 1183,952.5 L1309,952.5 Q1317.3,952.5 1317.3,944 L1317.3,915 Q1316.8,903 1311,895.8" stroke="#1a1a1a" stroke-width="2.2" fill="none" stroke-linejoin="round"/><path d="M1184.4,952.8 Q1184.9,957.3 1189.4,957.3 Q1193.9,957.3 1194.4,952.8" stroke="#1a1a1a" stroke-width="1.3" fill="none"/><path d="M1296.3,952.8 Q1296.8,957.3 1301.3,957.3 Q1305.8,957.3 1306.3,952.8" stroke="#1a1a1a" stroke-width="1.3" fill="none"/><path d="M1208.9,952.8 L1208.9,957 Q1208.9,958.3 1210.4,958.3 L1214.4,958.3 Q1215.9,958.3 1215.9,957 L1215.9,952.8" stroke="#1a1a1a" stroke-width="1.2" fill="none"/><path d="M1274.8,952.8 L1274.8,957 Q1274.8,958.3 1276.3,958.3 L1280.3,958.3 Q1281.8,958.3 1281.8,957 L1281.8,952.8" stroke="#1a1a1a" stroke-width="1.2" fill="none"/><path d="M1195,896.5 Q1245.5,927 1296.5,896.5" stroke="#8a8a8a" stroke-width="1.1" fill="none"/><circle cx="1245.5" cy="904.5" r="3.4" stroke="#555" stroke-width="1" fill="none"/><rect x="1195" y="887.5" width="101" height="5" fill="url(#grille)"/><rect x="1195.6" y="732" width="34" height="55" rx="5.5" fill="#d7d7d7"/><rect x="1206" y="725" width="12" height="8" fill="#d7d7d7"/><rect x="1208.5" y="715" width="8" height="10.5" fill="#d7d7d7"/><rect x="1199" y="717" width="10" height="2.2" fill="#d7d7d7"/><path d="M1264.6000000000001,718.8 L1270.2,718.8 L1270.2,733 Q1276.7,741 1276.7,752 L1276.7,785.5 Q1276.7,787 1275.2,787 L1259.7,787 Q1258.2,787 1258.2,785.5 L1258.2,752 Q1258.2,741 1264.6000000000001,733 Z" fill="#d7d7d7"/><rect x="1259.2" y="755" width="16.5" height="15.7" fill="#fff"/><path d="M1287.2,718.8 L1292.8,718.8 L1292.8,733 Q1299.3,741 1299.3,752 L1299.3,785.5 Q1299.3,787 1297.8,787 L1282.3,787 Q1280.8,787 1280.8,785.5 L1280.8,752 Q1280.8,741 1287.2,733 Z" fill="#d7d7d7"/><rect x="1281.8" y="755" width="16.5" height="15.7" fill="#fff"/><path d="M1200.7,821 Q1201,806.3 1212.9,806.3 Q1224.9,806.3 1225.1,821" stroke="#c8c8c8" stroke-width="1" fill="none"/><rect x="1186.6" y="820.9" width="52.8" height="59.3" fill="#d7d7d7"/><text x="1212.5" y="855.5" font-size="10.8" fill="#fff" text-anchor="middle" font-family="Liberation Sans">shopping</text><rect x="1248.5" y="819" width="61" height="61" rx="3.5" fill="#d7d7d7"/><line x1="1269.8" y1="819" x2="1269.8" y2="880" stroke="#fff" stroke-width="1.3"/><line x1="1248.5" y1="850" x2="1309.5" y2="850" stroke="#fff" stroke-width="1.3"/><path d="M1269.8,845 q-7,-8 -5,-1.5 q2,3.5 5,1.5 q7,-8 5,-1.5 q-2,3.5 -5,1.5 M1269.8,845 l-3.5,7 M1269.8,845 l4.5,6.5" stroke="#fff" stroke-width="1.2" fill="none"/><rect x="1179.6" y="704" width="132.8" height="85" rx="2.5" stroke="#2a2a2a" stroke-width="1.5" fill="none"/><rect x="1179.6" y="795.8" width="132.8" height="85" rx="2.5" stroke="#2a2a2a" stroke-width="1.5" fill="none"/><line x1="1245.6" y1="704" x2="1245.6" y2="789" stroke="#2a2a2a" stroke-width="1.5" fill="none"/><line x1="1245.6" y1="795.8" x2="1245.6" y2="880.8" stroke="#2a2a2a" stroke-width="1.5" fill="none"/></g><g transform="translate(374.9,0)"><path d="M1197.5,689 L1203.2,667.8 Q1203.8,665.8 1206,665.8 L1286.5,665.8 Q1288.6,665.8 1289.2,667.8 L1294,689" stroke="#1a1a1a" stroke-width="2.2" fill="none" stroke-linejoin="round"/><path d="M1206.5,667.5 L1206.5,677 Q1206.5,680 1209.5,680 L1283,680 Q1286,680 1286,677 L1286,667.5" stroke="#9a9a9a" stroke-width="1" fill="none"/><path d="M1197.5,689 L1179,695.5 Q1174,697.5 1174,703 L1174,889 Q1174,895.8 1180.5,895.8 L1311,895.8 Q1317.6,895.8 1317.6,889 L1317.6,703 Q1317.6,697.5 1312.6,695.5 L1294,689 Z" stroke="#1a1a1a" stroke-width="2.2" fill="none" stroke-linejoin="round" fill="#fff"/><path d="M1180.5,895.8 Q1175,903 1174.5,915 L1174.5,944 Q1174.5,952.5 1183,952.5 L1309,952.5 Q1317.3,952.5 1317.3,944 L1317.3,915 Q1316.8,903 1311,895.8" stroke="#1a1a1a" stroke-width="2.2" fill="none" stroke-linejoin="round"/><path d="M1184.4,952.8 Q1184.9,957.3 1189.4,957.3 Q1193.9,957.3 1194.4,952.8" stroke="#1a1a1a" stroke-width="1.3" fill="none"/><path d="M1296.3,952.8 Q1296.8,957.3 1301.3,957.3 Q1305.8,957.3 1306.3,952.8" stroke="#1a1a1a" stroke-width="1.3" fill="none"/><path d="M1208.9,952.8 L1208.9,957 Q1208.9,958.3 1210.4,958.3 L1214.4,958.3 Q1215.9,958.3 1215.9,957 L1215.9,952.8" stroke="#1a1a1a" stroke-width="1.2" fill="none"/><path d="M1274.8,952.8 L1274.8,957 Q1274.8,958.3 1276.3,958.3 L1280.3,958.3 Q1281.8,958.3 1281.8,957 L1281.8,952.8" stroke="#1a1a1a" stroke-width="1.2" fill="none"/><path d="M1195,896.5 Q1245.5,927 1296.5,896.5" stroke="#8a8a8a" stroke-width="1.1" fill="none"/><circle cx="1245.5" cy="904.5" r="3.4" stroke="#555" stroke-width="1" fill="none"/><rect x="1195" y="887.5" width="101" height="5" fill="url(#grille)"/><path d="M1183.2,740.5 L1210.2,740.5 L1211.2,745.5 L1209.7,746.5 L1206.2,787 L1187.2,787 L1183.7,746.5 L1182.2,745.5 Z" fill="#d7d7d7"/><path d="M1215.2,740.5 L1242.2,740.5 L1243.2,745.5 L1241.7,746.5 L1238.2,787 L1219.2,787 L1215.7,746.5 L1214.2,745.5 Z" fill="#d7d7d7"/><path d="M1259.5,725 L1264.5,725 L1264.5,729 Q1269.5,737 1270.0,748 Q1270.0,757 1268.5,762 Q1270.5,772 1270.0,783 Q1269.5,787 1266.5,787 L1257.5,787 Q1254.5,787 1254.0,783 Q1253.5,772 1255.5,762 Q1254.0,757 1254.0,748 Q1254.5,737 1259.5,729 Z" fill="#d7d7d7"/><path d="M1277,725 L1282,725 L1282,729 Q1287,737 1287.5,748 Q1287.5,757 1286,762 Q1288,772 1287.5,783 Q1287,787 1284,787 L1275,787 Q1272,787 1271.5,783 Q1271,772 1273,762 Q1271.5,757 1271.5,748 Q1272,737 1277,729 Z" fill="#d7d7d7"/><path d="M1295.2,725 L1300.2,725 L1300.2,729 Q1305.2,737 1305.7,748 Q1305.7,757 1304.2,762 Q1306.2,772 1305.7,783 Q1305.2,787 1302.2,787 L1293.2,787 Q1290.2,787 1289.7,783 Q1289.2,772 1291.2,762 Q1289.7,757 1289.7,748 Q1290.2,737 1295.2,729 Z" fill="#d7d7d7"/><path d="M1221.7,801.5 Q1246,802 1271,805.5 Q1266,808 1265,812 Q1271,845 1275.5,866 Q1276.5,876 1270,880 L1225,880 Q1218.5,877 1218.8,866 Q1219.5,838 1225.5,813 Q1225,806 1221.7,801.5 Z" fill="#d7d7d7"/><path d="M1265,811 Q1287,806 1295,822 Q1300,840 1290,853 Q1283,862 1276,868.5 L1274,860.5 Q1283,852 1287,843 Q1292,830 1284,824 Q1276,820 1266,825 Z" fill="#d7d7d7"/><path d="M1193.2,863 L1206.2,863 L1204.5,880 L1195,880 Z" fill="#d7d7d7"/><rect x="1179.6" y="704" width="132.8" height="85" rx="2.5" stroke="#2a2a2a" stroke-width="1.5" fill="none"/><rect x="1179.6" y="795.8" width="132.8" height="85" rx="2.5" stroke="#2a2a2a" stroke-width="1.5" fill="none"/><line x1="1245.6" y1="704" x2="1245.6" y2="789" stroke="#2a2a2a" stroke-width="1.5" fill="none"/></g></svg>
</body>
</html>
